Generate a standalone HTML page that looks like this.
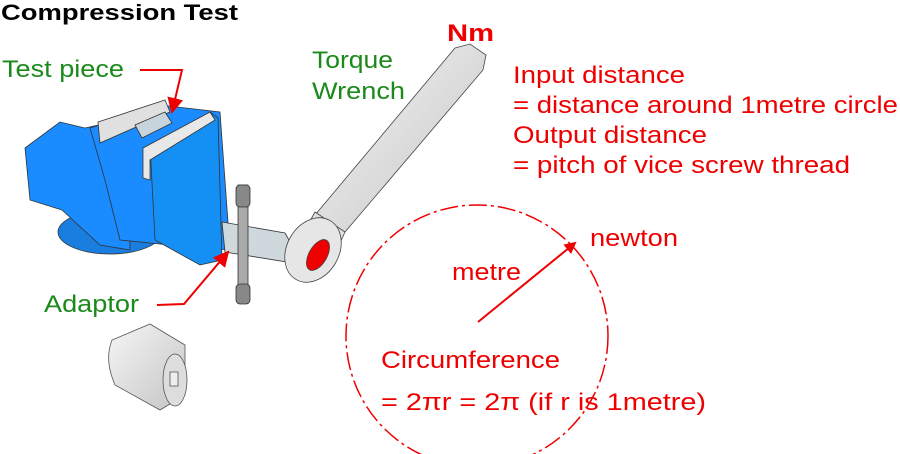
<!DOCTYPE html>
<html><head><style>
body{margin:0;background:#fff;}
svg{display:block;}
text{font-family:"Liberation Sans",Arial,sans-serif;}
</style></head><body>
<svg width="900" height="454" viewBox="0 0 900 454" xmlns="http://www.w3.org/2000/svg">
<defs>
<marker id="ah" markerWidth="12" markerHeight="12" refX="10" refY="6" orient="auto" markerUnits="userSpaceOnUse"><path d="M0,0 L12,6 L0,12 z" fill="#e00"/></marker>
<marker id="ah2" markerWidth="16" markerHeight="16" refX="14" refY="8" orient="auto" markerUnits="userSpaceOnUse"><path d="M0,0 L16,8 L0,16 z" fill="#e00"/></marker>
<linearGradient id="g1" x1="0" y1="0" x2="1" y2="1"><stop offset="0" stop-color="#f6f6f6"/><stop offset="1" stop-color="#c4c4c4"/></linearGradient>
</defs>
<text x="1" y="20" font-size="22" font-weight="bold" fill="#000" textLength="237" lengthAdjust="spacingAndGlyphs">Compression Test</text>
<text x="2" y="77" font-size="24" fill="#1a8a1a" textLength="122" lengthAdjust="spacingAndGlyphs">Test piece</text>
<text x="312" y="68" font-size="24" fill="#1a8a1a" textLength="81" lengthAdjust="spacingAndGlyphs">Torque</text>
<text x="312" y="99" font-size="24" fill="#1a8a1a" textLength="93" lengthAdjust="spacingAndGlyphs">Wrench</text>
<text x="44" y="312" font-size="24" fill="#1a8a1a" textLength="95" lengthAdjust="spacingAndGlyphs">Adaptor</text>
<text x="447" y="41" font-size="24" font-weight="bold" fill="#e00" textLength="47" lengthAdjust="spacingAndGlyphs">Nm</text>
<g font-size="24" fill="#e00">
<text x="513" y="83" textLength="172" lengthAdjust="spacingAndGlyphs">Input distance</text>
<text x="513" y="113" textLength="385" lengthAdjust="spacingAndGlyphs">= distance around 1metre circle</text>
<text x="513" y="143" textLength="194" lengthAdjust="spacingAndGlyphs">Output distance</text>
<text x="513" y="173" textLength="337" lengthAdjust="spacingAndGlyphs">= pitch of vice screw thread</text>
<text x="590" y="246" textLength="88" lengthAdjust="spacingAndGlyphs">newton</text>
<text x="452" y="280" textLength="69" lengthAdjust="spacingAndGlyphs">metre</text>
<text x="381" y="368" textLength="179" lengthAdjust="spacingAndGlyphs">Circumference</text>
<text x="381" y="410" textLength="325" lengthAdjust="spacingAndGlyphs">= 2πr = 2π (if r is 1metre)</text>
</g>
<circle cx="477" cy="336" r="131" fill="none" stroke="#e00" stroke-width="1.5" stroke-dasharray="18 4 3 4"/>
<line x1="478" y1="322" x2="575" y2="243" stroke="#e00" stroke-width="2" marker-end="url(#ah)"/>
<!-- vice -->
<g stroke="#333" stroke-width="0.8">
<ellipse cx="110" cy="232" rx="52" ry="22" fill="#1a7ee0"/>
<path d="M25,148 L60,122 L85,128 L130,118 L130,250 L100,245 L62,210 L30,200 z" fill="#1a8cff"/>
<path d="M90,128 L160,105 L220,112 L230,250 L170,245 L120,240 L105,180 z" fill="#1a8cff"/>
<path d="M150,145 L210,112 L218,118 L222,260 L200,265 L155,240 z" fill="#1490f5"/>
<path d="M98,122 L165,100 L170,112 L100,143 z" fill="#e0e0e0"/>
<path d="M143,148 L210,112 L215,120 L150,160 L150,180 L143,178 z" fill="#e8e8e8"/>
<path d="M135,125 L165,112 L172,123 L142,138 z" fill="#c8d4dc"/>
<path d="M222,222 L285,233 L293,247 L287,262 L225,252 z" fill="#cfd8dc"/>
<rect x="238" y="185" width="10" height="118" fill="#aaa"/>
<rect x="236" y="185" width="14" height="22" rx="4" fill="#888"/>
<rect x="236" y="284" width="14" height="20" rx="4" fill="#888"/>
</g>
<!-- adaptor cylinder -->
<g stroke="#555" stroke-width="0.8">
<path d="M112,340 L150,324 L185,345 L185,395 L160,410 L115,385 Q104,360 112,340 z" fill="url(#g1)"/>
<ellipse cx="175" cy="380" rx="12" ry="26" fill="#ddd"/>
<rect x="170" y="372" width="8" height="14" fill="#eee"/>
</g>
<!-- wrench -->
<g stroke="#444" stroke-width="0.8">
<path d="M455,48 L470,44 L486,55 L483,70 L345,232 L315,215 z" fill="url(#g1)"/>
<path d="M315,212 L345,232 L330,265 L295,248 z" fill="#e0e0e0"/>
<ellipse cx="313" cy="250" rx="26" ry="34" transform="rotate(30 313 250)" fill="#e6e6e6"/>
<ellipse cx="318" cy="255" rx="9" ry="17" transform="rotate(30 318 255)" fill="#e00"/>
</g>
<!-- pointer arrows -->
<path d="M140,70 L182,70 L172,112" fill="none" stroke="#e00" stroke-width="2" marker-end="url(#ah2)"/>
<path d="M157,305 L184,304 L228,252" fill="none" stroke="#e00" stroke-width="2" marker-end="url(#ah2)"/>
</svg>
</body></html>
